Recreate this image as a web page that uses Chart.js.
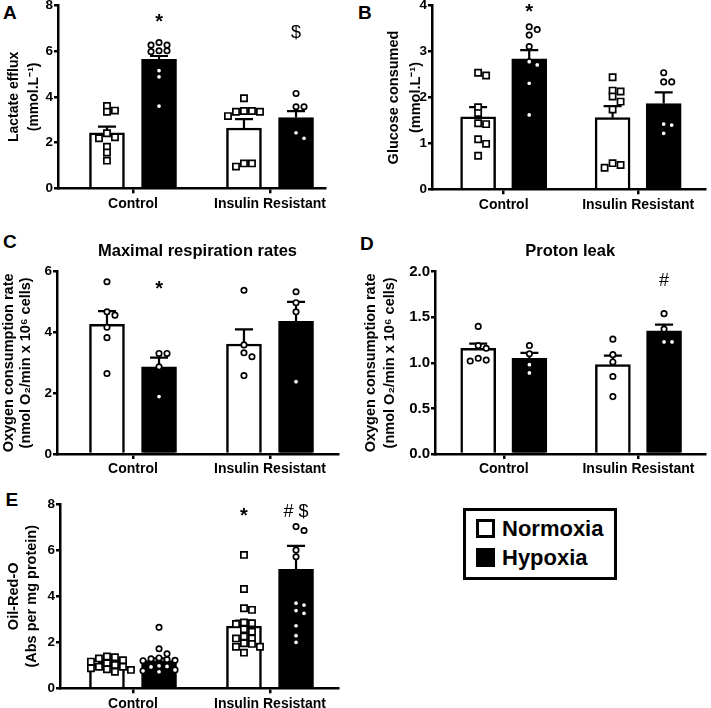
<!DOCTYPE html>
<html>
<head>
<meta charset="utf-8">
<title>Hypoxia and insulin resistance</title>
<script src="https://cdn.jsdelivr.net/npm/chart.js@4.4.1/dist/chart.umd.min.js"></script>
<style>
  body { margin: 0; background: #fff; }
  #figure { position: relative; width: 711px; height: 708px; overflow: hidden; font-family: "Liberation Sans", Arial, sans-serif; color: #000; }
  #figure canvas { position: absolute; }
  .letter { position: absolute; font-size: 19px; font-weight: bold; line-height: 19px; }
  .legend { position: absolute; left: 463px; top: 508px; width: 154px; height: 72px; box-sizing: border-box; border: 3px solid #000; }
  .swatch { position: absolute; left: 476px; width: 19px; height: 19px; box-sizing: border-box; border: 3px solid #000; }
  .legend-text { position: absolute; left: 502px; font-size: 22px; font-weight: bold; line-height: 22px; }
</style>
</head>
<body>
<div id="figure">
  <div class="letter" style="left:3px;top:2.5px">A</div>
  <div class="letter" style="left:358px;top:2.5px">B</div>
  <div class="letter" style="left:3px;top:231.5px">C</div>
  <div class="letter" style="left:360px;top:234px">D</div>
  <div class="letter" style="left:5.5px;top:490px">E</div>
  <div class="legend"></div>
  <div class="swatch" style="top:519px;background:#fff"></div>
  <div class="swatch" style="top:548px;background:#000"></div>
  <div class="legend-text" style="top:518px">Normoxia</div>
  <div class="legend-text" style="top:546.5px">Hypoxia</div>
</div>
<script>
const groups = ["Control", "Insulin Resistant"];

// A - lactate efflux
const lactateNormoxia = [2.43, 2.64];
const lactateNormoxiaSem = [0.27, 0.39];
const lactateHypoxia = [5.64, 3.10];
const lactateHypoxiaSem = [0.15, 0.28];
const lactateNormoxiaPts = [[3.60, 3.40, 3.35, 2.41, 2.23, 2.19, 1.82, 1.57, 1.21], [3.94, 3.38, 3.38, 3.35, 3.35, 3.16, 1.09, 1.09, 0.95]];
const lactateHypoxiaPts = [[6.38, 6.27, 6.27, 6.02, 6.02, 5.98, 5.15, 4.88, 3.60], [4.15, 3.57, 3.57, 2.43, 2.19]];
const lactateMarks = [{ group: 0, cond: 1, text: "*", at: 7.25 }, { group: 1, cond: 1, text: "$", at: 6.8 }];

// B - glucose consumed
const glucoseNormoxia = [1.58, 1.56];
const glucoseNormoxiaSem = [0.21, 0.25];
const glucoseHypoxia = [2.84, 1.87];
const glucoseHypoxiaSem = [0.19, 0.24];
const glucoseNormoxiaPts = [[2.54, 2.48, 1.79, 1.66, 1.44, 1.42, 1.09, 0.99, 0.73], [2.44, 2.15, 2.13, 2.02, 1.91, 1.74, 0.57, 0.53, 0.47]];
const glucoseHypoxiaPts = [[3.54, 3.48, 3.36, 3.11, 2.78, 2.71, 2.31, 1.62], [2.54, 2.34, 2.34, 1.42, 1.40, 1.22]];
const glucoseMarks = [{ group: 0, cond: 1, text: "*", at: 3.85 }];

// C - maximal respiration
const maximalNormoxia = [4.27, 3.62];
const maximalNormoxiaSem = [0.43, 0.48];
const maximalHypoxia = [2.87, 4.37];
const maximalHypoxiaSem = [0.30, 0.64];
const maximalNormoxiaPts = [[5.67, 4.68, 4.57, 4.17, 3.83, 2.65], [5.39, 3.59, 3.33, 3.20, 2.58]];
const maximalHypoxiaPts = [[3.31, 3.31, 2.87, 1.89], [5.34, 4.98, 4.68, 2.38]];
const maximalMarks = [{ group: 0, cond: 1, text: "*", at: 5.42 }];

// D - proton leak
const leakNormoxia = [1.16, 0.98];
const leakNormoxiaSem = [0.05, 0.10];
const leakHypoxia = [1.05, 1.35];
const leakHypoxiaSem = [0.06, 0.07];
const leakNormoxiaPts = [[1.40, 1.19, 1.16, 1.05, 1.03, 1.02], [1.26, 1.09, 1.01, 0.85, 0.63]];
const leakHypoxiaPts = [[1.19, 1.10, 0.98, 0.89], [1.54, 1.37, 1.23, 1.23]];
const leakMarks = [{ group: 1, cond: 1, text: "#", at: 1.90 }];

// E - Oil-Red-O
const oilNormoxia = [1.04, 2.71];
const oilNormoxiaSem = [0.06, 0.23];
const oilHypoxia = [1.20, 5.17];
const oilHypoxiaSem = [0.10, 1.02];
const oilNormoxiaPts = [[1.38, 1.35, 1.30, 1.22, 1.16, 1.09, 1.01, 0.94, 0.94, 0.87, 0.83, 0.80, 0.72],
  [5.80, 4.32, 3.48, 3.41, 2.86, 2.83, 2.80, 2.57, 2.46, 2.25, 2.17, 2.17, 1.96, 1.93, 1.81, 1.81, 1.55]];
const oilHypoxiaPts = [[2.65, 1.72, 1.50, 1.32, 1.28, 1.25, 1.22, 1.20, 0.98, 0.95, 0.93, 0.80, 0.76, 0.72],
  [7.03, 6.86, 6.01, 5.72, 3.70, 3.62, 3.38, 3.26, 2.72, 2.29, 2.00]];
const oilMarks = [{ group: 1, cond: 0, text: "*", at: 7.48 }, { group: 1, cond: 1, text: "# $", at: 7.66 }];

const FONT = "'Liberation Sans', Arial, sans-serif";
Chart.defaults.font.family = FONT;
Chart.defaults.color = "#000";

const barOffset = 0.19;
function barX(group, cond) {
    return group + (cond === 0 ? -barOffset : barOffset);
}

const errorBars = {
    id: "errorBars",
    afterDatasetDraw(chart, args) {
        const ds = chart.data.datasets[args.index];
        if (!ds.sem) return;
        const ys = chart.scales.y;
        const ctx = chart.ctx;
        ctx.save();
        ctx.strokeStyle = "#000";
        ctx.lineWidth = 2.2;
        args.meta.data.forEach((bar, i) => {
            const top = ys.getPixelForValue(ds.data[i].y + ds.sem[i]);
            ctx.beginPath();
            ctx.moveTo(bar.x, bar.y);
            ctx.lineTo(bar.x, top);
            ctx.moveTo(bar.x - 9, top);
            ctx.lineTo(bar.x + 9, top);
            ctx.stroke();
        });
        ctx.restore();
    },
};

const sigMarks = {
    id: "sigMarks",
    afterDatasetsDraw(chart, args, opts) {
        const ctx = chart.ctx;
        ctx.save();
        ctx.fillStyle = "#000";
        ctx.textAlign = "center";
        ctx.textBaseline = "middle";
        (opts.marks || []).forEach((m) => {
            ctx.font = m.text === "*" ? "bold 20px " + FONT : "18px " + FONT;
            ctx.fillText(m.text, chart.scales.x.getPixelForValue(barX(m.group, m.cond)), chart.scales.y.getPixelForValue(m.at));
        });
        ctx.restore();
    },
};

function buildDatasets(spec) {
    const conds = [
        { label: "Normoxia", mean: spec.normoxia, sem: spec.normoxiaSem, pts: spec.normoxiaPts, fill: "#fff", shape: spec.normoxiaShape },
        { label: "Hypoxia", mean: spec.hypoxia, sem: spec.hypoxiaSem, pts: spec.hypoxiaPts, fill: "#000", shape: "circle" },
    ];
    const sets = [];
    conds.forEach((c, ci) => {
        sets.push({
            type: "scatter",
            label: c.label + " samples",
            order: 1,
            data: c.pts.flatMap((vals, gi) => vals.map((v) => ({ x: barX(gi, ci), y: v, base: barX(gi, ci) }))),
            pointStyle: c.shape,
            pointRadius: c.shape === "rect" ? 4.4 : 2.7,
            pointBackgroundColor: "#fff",
            pointBorderColor: "#000",
            pointBorderWidth: 1.7,
        });
        sets.push({
            type: "bar",
            label: c.label,
            order: 2,
            grouped: false,
            data: c.mean.map((v, gi) => ({ x: barX(gi, ci), y: v })),
            sem: c.sem,
            backgroundColor: c.fill,
            borderColor: "#000",
            borderWidth: 2.5,
            barThickness: 35,
        });
    });
    return sets;
}

// spread the sample dots sideways so they do not sit right on top of each other
function spreadPoints(chart) {
    const xs = chart.scales.x;
    const ys = chart.scales.y;
    const pxPerUnit = xs.getPixelForValue(1) - xs.getPixelForValue(0);
    const gapX = 8;
    const gapY = 5.5;
    chart.data.datasets.forEach((ds) => {
        if (ds.type !== "scatter") return;
        const byBar = {};
        ds.data.forEach((p) => {
            (byBar[p.base] = byBar[p.base] || []).push(p);
        });
        Object.values(byBar).forEach((pts) => {
            const placed = [];
            pts.slice().sort((a, b) => b.y - a.y).forEach((p) => {
                const py = ys.getPixelForValue(p.y);
                let off = 0;
                for (let k = 0; k < 16; k++) {
                    const cand = (k % 2 ? 1 : -1) * Math.ceil(k / 2) * gapX;
                    const clash = placed.some((q) => ((q.dx - cand) / gapX) ** 2 + ((q.py - py) / gapY) ** 2 < 1);
                    if (!clash) {
                        off = cand;
                        break;
                    }
                }
                placed.push({ dx: off, py });
                p.x = p.base + off / pxPerUnit;
            });
        });
    });
    chart.update("none");
}

function makeChart(spec) {
    const lay = spec.layout;
    const canvas = document.createElement("canvas");
    canvas.width = lay.width;
    canvas.height = lay.height;
    canvas.style.left = lay.left + "px";
    canvas.style.top = lay.top + "px";
    document.getElementById("figure").appendChild(canvas);

    const [L, T, R, B] = lay.plot;
    const [c0, c1] = lay.centers;
    const unit = c1 - c0;
    const titleLh = 19.8;

    const chart = new Chart(canvas.getContext("2d"), {
        type: "bar",
        data: { datasets: buildDatasets(spec) },
        plugins: [errorBars, sigMarks],
        options: {
            responsive: false,
            animation: false,
            events: [],
            layout: {
                padding: { left: 0, top: spec.title ? 0 : T - lay.top, right: lay.left + lay.width - R, bottom: 0 },
            },
            plugins: {
                legend: { display: false },
                tooltip: { enabled: false },
                title: spec.title
                    ? {
                          display: true,
                          text: spec.title,
                          fullSize: false,
                          color: "#000",
                          font: { size: 16.5, weight: "bold", lineHeight: titleLh / 16.5 },
                          padding: { top: lay.titleY - lay.top - titleLh / 2, bottom: T - lay.titleY - titleLh / 2 },
                      }
                    : { display: false },
                sigMarks: { marks: spec.marks },
            },
            scales: {
                x: {
                    type: "linear",
                    min: (L - c0) / unit,
                    max: (R - c0) / unit,
                    offset: false,
                    afterBuildTicks: (scale) => {
                        scale.ticks = groups.map((g, i) => ({ value: i }));
                    },
                    afterFit: (scale) => {
                        scale.height = lay.top + lay.height - B;
                    },
                    ticks: {
                        autoSkip: false,
                        maxRotation: 0,
                        padding: 2,
                        font: { size: 14, weight: "bold" },
                        callback: (v, i) => groups[i],
                    },
                    grid: { offset: false, drawOnChartArea: false, color: "#000", lineWidth: 2.5, tickLength: 5 },
                    border: { color: "#000", width: 2.5 },
                },
                y: {
                    min: 0,
                    max: spec.yMax,
                    afterFit: (scale) => {
                        scale.width = L - lay.left;
                    },
                    ticks: {
                        stepSize: spec.yStep,
                        padding: 1,
                        font: { size: spec.tickSize, weight: "bold" },
                        callback: (v) => (spec.yDecimals ? v.toFixed(spec.yDecimals) : v),
                    },
                    grid: { drawOnChartArea: false, color: "#000", lineWidth: 2.5, tickLength: 4 },
                    border: { color: "#000", width: 2.5 },
                    title: {
                        display: true,
                        text: spec.yTitle,
                        color: "#000",
                        font: { size: spec.yTitleSize, weight: "bold", lineHeight: spec.yTitleLh / spec.yTitleSize },
                        padding: { top: spec.yTitleX - spec.yTitleLh / 2, bottom: 0 },
                    },
                },
            },
        },
    });
    spreadPoints(chart);
    return chart;
}

document.addEventListener("DOMContentLoaded", () => {
    makeChart({
        layout: { left: 0, top: -10, width: 345, height: 225, plot: [58, 5.5, 325, 188.3], centers: [133, 270] },
        normoxia: lactateNormoxia, normoxiaSem: lactateNormoxiaSem, normoxiaPts: lactateNormoxiaPts, normoxiaShape: "rect",
        hypoxia: lactateHypoxia, hypoxiaSem: lactateHypoxiaSem, hypoxiaPts: lactateHypoxiaPts,
        marks: lactateMarks,
        yMax: 8, yStep: 2, tickSize: 13.5,
        yTitle: ["Lactate efflux", "(mmol.L\u207B\u00B9)"], yTitleSize: 14, yTitleLh: 19.3, yTitleX: 14.5,
    });
    makeChart({
        layout: { left: 355, top: -10, width: 356, height: 225, plot: [432, 5.7, 710, 189.3], centers: [505, 642] },
        normoxia: glucoseNormoxia, normoxiaSem: glucoseNormoxiaSem, normoxiaPts: glucoseNormoxiaPts, normoxiaShape: "rect",
        hypoxia: glucoseHypoxia, hypoxiaSem: glucoseHypoxiaSem, hypoxiaPts: glucoseHypoxiaPts,
        marks: glucoseMarks,
        yMax: 4, yStep: 1, tickSize: 13.5,
        yTitle: ["Glucose consumed", "(mmol.L\u207B\u00B9)"], yTitleSize: 14.5, yTitleLh: 21.5, yTitleX: 39.2,
    });
    makeChart({
        layout: { left: 0, top: 236, width: 345, height: 244, plot: [57, 271.7, 338, 454], centers: [133, 270], titleY: 251 },
        title: "Maximal respiration rates",
        normoxia: maximalNormoxia, normoxiaSem: maximalNormoxiaSem, normoxiaPts: maximalNormoxiaPts, normoxiaShape: "circle",
        hypoxia: maximalHypoxia, hypoxiaSem: maximalHypoxiaSem, hypoxiaPts: maximalHypoxiaPts,
        marks: maximalMarks,
        yMax: 6, yStep: 2, tickSize: 13.5,
        yTitle: ["Oxygen consumption rate", "(nmol O\u2082/min x 10\u2076 cells)"], yTitleSize: 14.5, yTitleLh: 17, yTitleX: 8.8,
    });
    makeChart({
        layout: { left: 355, top: 236, width: 356, height: 244, plot: [435, 271.7, 710, 454], centers: [505, 642], titleY: 251 },
        title: "Proton leak",
        normoxia: leakNormoxia, normoxiaSem: leakNormoxiaSem, normoxiaPts: leakNormoxiaPts, normoxiaShape: "circle",
        hypoxia: leakHypoxia, hypoxiaSem: leakHypoxiaSem, hypoxiaPts: leakHypoxiaPts,
        marks: leakMarks,
        yMax: 2, yStep: 0.5, yDecimals: 1, tickSize: 15,
        yTitle: ["Oxygen consumption rate", "(nmol O\u2082/min x 10\u2076 cells)"], yTitleSize: 14.5, yTitleLh: 18.7, yTitleX: 16.3,
    });
    makeChart({
        layout: { left: 0, top: 490, width: 345, height: 218, plot: [60, 504.3, 338, 688.3], centers: [133, 270] },
        normoxia: oilNormoxia, normoxiaSem: oilNormoxiaSem, normoxiaPts: oilNormoxiaPts, normoxiaShape: "rect",
        hypoxia: oilHypoxia, hypoxiaSem: oilHypoxiaSem, hypoxiaPts: oilHypoxiaPts,
        marks: oilMarks,
        yMax: 8, yStep: 2, tickSize: 13.5,
        yTitle: ["Oil-Red-O", "(Abs per mg protein)"], yTitleSize: 14.5, yTitleLh: 17.7, yTitleX: 14,
    });
});
</script>
</body>
</html>
